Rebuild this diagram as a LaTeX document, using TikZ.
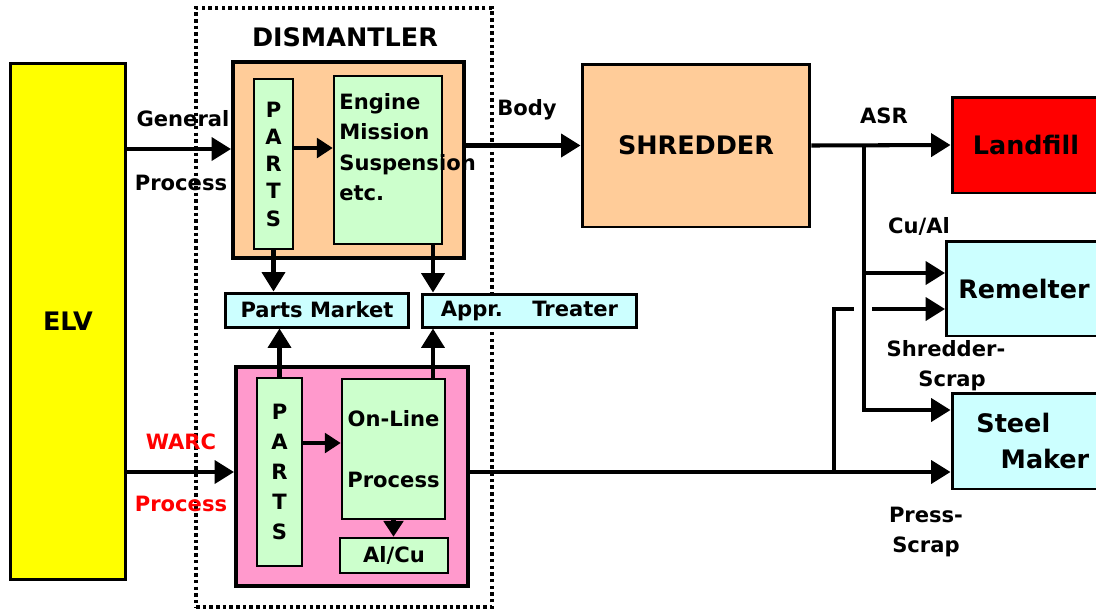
\documentclass[tikz,border=0pt]{standalone}
\usepackage{fontspec}
\setmainfont{DejaVu Sans}
\usetikzlibrary{positioning, calc, arrows.meta}

\definecolor{elvyellow}{HTML}{FFFF00}
\definecolor{peach}{HTML}{FFCC99}
\definecolor{subgreen}{HTML}{CCFFCC}
\definecolor{marketcyan}{HTML}{CCFFFF}
\definecolor{warcpink}{HTML}{FF99CC}
\definecolor{fillred}{HTML}{FF0000}

\begin{document}
\begin{tikzpicture}[
    x=0.02cm, y=-0.02cm,
    box/.style={draw, line width=1.7pt, inner sep=0pt, font=\fontsize{14.5}{18}\selectfont\bfseries},
    unit/.style={box, line width=2.3pt},
    sub/.style={draw, line width=1.4pt, inner sep=0pt, fill=subgreen, font=\fontsize{12}{15}\selectfont\bfseries},
    lbl/.style={inner sep=0pt, font=\fontsize{12}{17}\selectfont\bfseries},
    wire/.style={line width=2.3pt},
    flow/.style={wire, -{Triangle[length=11pt,width=13pt]}},
    flowsm/.style={wire, -{Triangle[length=9pt,width=11pt]}}
]
\clip (0,0) rectangle (1096,610);

% ELV and dismantler
\node[box, fill=elvyellow, minimum width=2.32cm, minimum height=10.34cm] (ELV) at (68,321.5) {ELV};
\node[draw, line width=2pt, dash pattern=on 2pt off 1.8pt, minimum width=5.92cm, minimum height=11.98cm] (dism) at (344,307.5) {};
\node[box, draw=none] (dismlbl) at (345,37) {DISMANTLER};

% general process
\node[unit, fill=peach, minimum width=4.62cm, minimum height=3.92cm] (dis1) at (348.5,160) {};
\node[sub, align=center, font=\fontsize{12}{15.5}\selectfont\bfseries, minimum width=0.78cm, minimum height=3.4cm] (parts1) at (273.5,164) {P\\A\\R\\T\\S};
\node[sub, minimum width=2.16cm, minimum height=3.36cm] (engine) at (388,160) {};
\node[lbl, align=left, anchor=west, font=\fontsize{12}{17.4}\selectfont\bfseries] (enginetxt) at (339,147) {Engine\\Mission\\Suspension\\etc.};

% markets
\node[box, fill=marketcyan, font=\fontsize{12}{15}\selectfont\bfseries, minimum width=3.68cm, minimum height=0.68cm] (pmarket) at (317,310) {Parts Market};
\node[box, fill=marketcyan, font=\fontsize{12}{15}\selectfont\bfseries, minimum width=4.3cm, minimum height=0.66cm] (treater) at (529.5,310.5) {Appr.\hspace{1.4em}Treater};

% WARC process
\node[unit, fill=warcpink, minimum width=4.64cm, minimum height=4.38cm] (dis2) at (352,476.5) {};
\node[sub, align=center, font=\fontsize{12}{17}\selectfont\bfseries, minimum width=0.9cm, minimum height=3.76cm] (parts2) at (279.5,472) {P\\A\\R\\T\\S};
\node[sub, align=center, font=\fontsize{12}{35}\selectfont\bfseries, minimum width=2.06cm, minimum height=2.8cm] (online) at (393.5,449) {On-Line\\Process};
\node[sub, minimum width=2.16cm, minimum height=0.7cm] (alcu) at (394,555.5) {Al/Cu};

% right side
\node[box, fill=peach, minimum width=4.56cm, minimum height=3.26cm] (shredder) at (696,145.5) {SHREDDER};
\node[box, fill=fillred, minimum width=2.96cm, minimum height=1.92cm, text width=2.9cm, align=center] (landfill) at (1026,145) {Landfill};
\node[box, fill=marketcyan, minimum width=3.04cm, minimum height=1.9cm, text width=3.1cm, align=center] (remelter) at (1024,288.5) {Remelter};
\node[box, fill=marketcyan, minimum width=2.96cm, minimum height=1.92cm, text width=2.9cm, align=left, font=\fontsize{14.5}{20.4}\selectfont\bfseries] (steel) at (1026,441) {\hspace{0.9em}Steel\\\hspace{1.85em}Maker};

% labels
\node[lbl] (genlbl) at (183,119) {General};
\node[lbl] (genproc) at (181,183) {Process};
\node[lbl, text=fillred] (warclbl) at (181,442) {WARC};
\node[lbl, text=fillred] (warcproc) at (181,504) {Process};
\node[lbl] (bodylbl) at (527,110) {Body};
\node[lbl] (asrlbl) at (884,116) {ASR};
\node[lbl] (culbl) at (919,226) {Cu/Al};
\node[lbl, align=left] (shredlbl) at (946,366) {Shredder-\\\hspace{1.5em}Scrap};
\node[lbl, align=center] (presslbl) at (926,532) {Press-\\Scrap};

% helper points
\coordinate (genin) at ([yshift=0.22cm]dis1.west);
\coordinate (warcin) at ([yshift=0.09cm]dis2.west);
\coordinate (p1out) at ([yshift=0.32cm]parts1.east);
\coordinate (p2out) at ([yshift=0.58cm]parts2.east);
\coordinate (e1) at ([xshift=0.9cm]engine.south);
\coordinate (o1) at ([xshift=0.79cm]online.north);
\coordinate (st1) at ([yshift=-0.62cm]steel.west);
\coordinate (st2) at ([yshift=0.62cm]steel.west);
\coordinate (rm1) at ([yshift=0.31cm]remelter.west);
\coordinate (rm2) at ([yshift=-0.41cm]remelter.west);
\coordinate (split) at ($(shredder.east)!0.38!(landfill.west)$);
\coordinate (presssplit) at ($(dis2.east |- st1)!0.758!(st1)$);

% connectors
\draw[flow] (ELV.east |- genin) -- (genin);
\draw[flow] (ELV.east |- warcin) -- (warcin);
\draw[flowsm] (p1out) -- (p1out -| engine.west);
\draw[flowsm] (p2out) -- (p2out -| online.west);
\draw[flow] (parts1.south) -- (parts1.south |- pmarket.north);
\draw[flow] (e1) -- (e1 |- treater.north);
\draw[flow] (parts2.north) -- (parts2.north |- pmarket.south);
\draw[flow] (o1) -- (o1 |- treater.south);
\draw[flowsm] (online.south) -- (online.south |- alcu.north);
\draw[flow] (dis1.east |- shredder.west) -- (shredder.west);
\draw[flow] (shredder.east) -- (landfill.west);
\draw[flow] (dis2.east |- st1) -- (st1);
\draw[flow] (split) |- (st2);
\draw[flow] (split |- rm1) -- (rm1);
\draw[wire] (presssplit) |- ([xshift=-0.2cm]split |- rm2);
\draw[flow] ([xshift=0.16cm]split |- rm2) -- (rm2);

\end{tikzpicture}
\end{document}
